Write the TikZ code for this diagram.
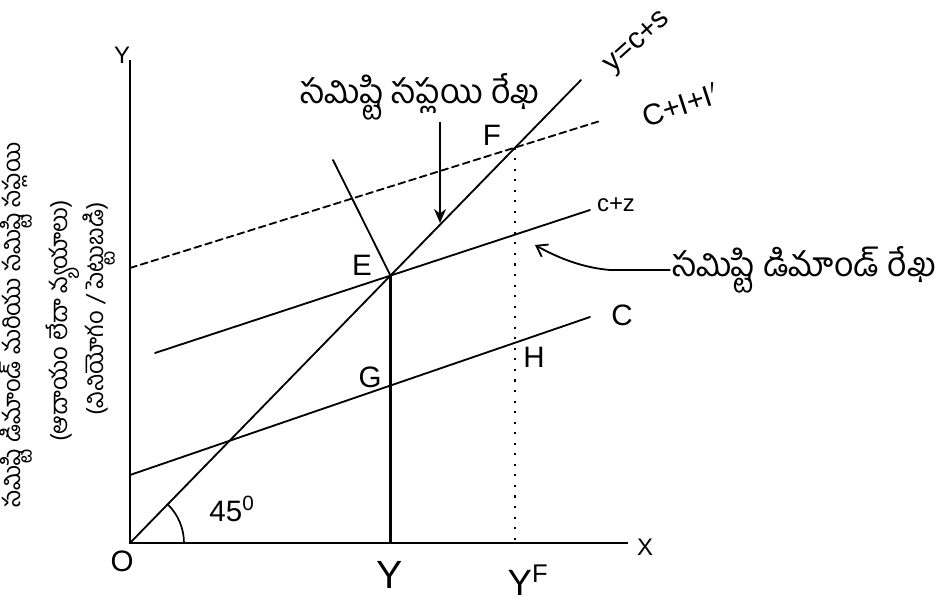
\documentclass[tikz,border=0pt]{standalone}
\usepackage{fontspec}
\setmainfont{Liberation Sans}
\newfontfamily\telugu[Script=Telugu]{Hind Guntur}
\usetikzlibrary{arrows.meta}
\tikzset{
  % --- axes and curves ---
  axis/.style={line width=1.8pt, draw=black},
  curve/.style={line width=1.3pt, draw=black, line cap=round},
  shifted/.style={curve, dash pattern=on 5pt off 3pt},
  guide/.style={line width=1.5pt, dash pattern=on 1.5pt off 6pt},
  % --- labels ---
  lbl/.style={font=\fontsize{21}{23}\selectfont, inner sep=1pt},
  small/.style={font=\fontsize{17}{19}\selectfont, inner sep=1pt},
  tel/.style={font=\telugu\fontsize{24}{26}\selectfont, inner sep=1pt},
  axtitle/.style={font=\telugu\fontsize{17}{19}\selectfont, inner sep=1pt, rotate=90},
  % --- pointers ---
  pointer/.style={line width=1.3pt, -{Stealth[length=3.5mm,width=3mm]}},
  barb/.style={line width=1.3pt, -{Straight Barb[length=2.5mm,width=3.5mm]}},
}

\begin{document}
\begin{tikzpicture}
  \useasboundingbox (0,0) rectangle (23.575,15.025);

  % --- axes ---
  \coordinate (O)    at (3.25,1.45);
  \coordinate (ytop) at (3.25,13.525);
  \coordinate (xend) at (15.7,1.45);
  \draw[axis] (ytop) -- (O) -- (xend);
  \node[small] (ylab) at (3.05,13.65) {Y};
  \node[small] (xlab) at (16.125,1.35) {X};
  \node[lbl]   (olab) at (3.05,1.0) {O};

  % --- 45 degree line y=c+s ---
  \coordinate (ss) at (14.525,13.025);
  \draw[curve] (O) -- (ss);
  \draw[line width=1.2pt] ([shift={(0:1.35)}]O) arc[start angle=0, end angle=45, radius=1.35];
  \node[lbl] (ang) at (5.8,2.3) {45$^{\mathrm 0}$};
  \node[lbl, rotate=42, inner sep=0pt] (sslab) at (15.95,13.95) {y=c+s};

  % --- consumption and demand lines ---
  \coordinate (c1)  at (3.25,3.15);
  \coordinate (c2)  at (14.75,7.1);
  \coordinate (cz1) at (3.875,6.2);
  \coordinate (cz2) at (14.75,9.775);
  \coordinate (ci1) at (3.25,8.325);
  \coordinate (ci2) at (15.0,12.0);
  \draw[curve]   (c1)  -- (c2);
  \draw[curve]   (cz1) -- (cz2);
  \draw[shifted] (ci1) -- (ci2);
  \node[lbl]   (clab)  at (15.55,7.15) {C};
  \node[small] (czlab) at (15.4,9.9) {c+z};
  \node[lbl, rotate=18, inner sep=0pt] (cilab) at (17.0,12.4) {C+I+I$'$};

  % --- equilibrium points ---
  \coordinate (E) at (intersection of O--ss and cz1--cz2);
  \coordinate (F) at (intersection of O--ss and ci1--ci2);
  \coordinate (G) at (intersection of c1--c2 and E--{E |- O});
  \coordinate (H) at (intersection of c1--c2 and F--{F |- O});
  \draw[axis, line width=1.5pt] (E) -- (E |- O);
  \draw[guide] (F) -- (F |- O);
  \coordinate (kink) at (8.325,11.025);
  \draw[curve] (kink) -- (E);
  \node[lbl] (elab) at (9.05,8.4)  {E};
  \node[lbl] (flab) at (12.3,11.65) {F};
  \node[lbl] (glab) at (9.25,5.6)  {G};
  \node[lbl] (hlab) at (13.35,6.1) {H};
  \node[font=\fontsize{28}{30}\selectfont] (yeq) at (9.75,0.65) {Y};
  \node[font=\fontsize{26}{28}\selectfont] (yfull) at (13.2,0.52) {Y$^{\mathrm F}$};

  % --- curve names ---
  \node[tel] (asl) at (10.5,12.6) {సమిష్టి సప్లయి రేఖ};
  \coordinate (astip) at (11.0,9.45);
  \draw[pointer] (asl.south -| astip) -- (astip);
  \node[tel] (adl) at (20.1,8.275) {సమిష్టి డిమాండ్ రేఖ};
  \coordinate (adtip) at (13.375,8.9);
  \draw[barb] (adl.west) -- (15.25,8.275) .. controls (14.6,8.33) and (14.0,8.55) .. (adtip);

  % --- vertical axis title ---
  \node[axtitle] (yt1) at (0.4,6.9)   {సమిష్టి డిమాండ్ మరియు సమిష్టి సప్లయి};
  \node[axtitle] (yt2) at (1.575,7.0) {(ఆదాయం లేదా వ్యయాలు)};
  \node[axtitle] (yt3) at (2.475,7.3) {(వినియోగం / పెట్టుబడి)};
\end{tikzpicture}
\end{document}
